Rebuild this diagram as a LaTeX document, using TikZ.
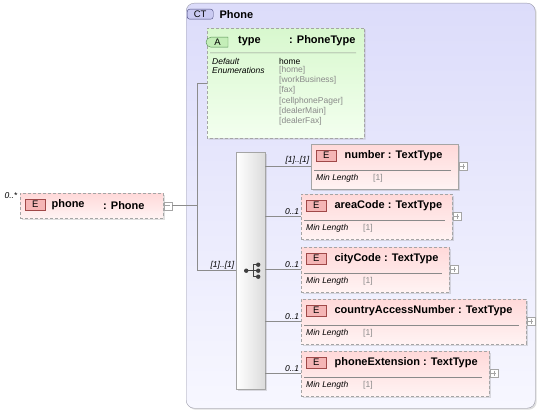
\documentclass[tikz,border=0pt]{standalone}
\usepackage{fontspec}
\setmainfont{Liberation Sans}
\usetikzlibrary{positioning, calc, shapes.misc, shadows}
\definecolor{CtTop}{HTML}{DCDCFA}
\definecolor{CtBot}{HTML}{F7F7FF}
\definecolor{CtLine}{HTML}{9A9AA8}
\definecolor{ElTop}{HTML}{FFD9D9}
\definecolor{ElBot}{HTML}{FFF3F3}
\definecolor{AtTop}{HTML}{D8F8CE}
\definecolor{AtBot}{HTML}{F3FFEF}
\definecolor{BoxLine}{HTML}{A5A5A5}
\definecolor{Wire}{HTML}{8C8C8C}
\definecolor{Faded}{HTML}{8A8A8A}
\definecolor{EFill}{HTML}{F5B5B5}
\definecolor{ELine}{HTML}{A04848}
\definecolor{AFill}{HTML}{C4EEB8}
\definecolor{ALine}{HTML}{4E8A4E}
\definecolor{CFill}{HTML}{CACAF2}
\definecolor{CLine}{HTML}{45457A}
\tikzset{
  shade/.style={drop shadow={shadow xshift=1.5pt, shadow yshift=-1.5pt, opacity=.25}},
  ctbox/.style={draw=CtLine, rounded corners=8pt, top color=CtTop, bottom color=CtBot,
                anchor=north west, inner sep=0pt, shade},
  elbox/.style={draw=BoxLine, top color=ElTop, bottom color=ElBot, anchor=north west,
                inner sep=0pt, shade},
  attbox/.style={draw=BoxLine, opt, top color=AtTop, bottom color=AtBot, anchor=north west,
                 inner sep=0pt, shade, chamfered rectangle,
                 chamfered rectangle corners={north west, south west, south east},
                 chamfered rectangle xsep=6pt, chamfered rectangle ysep=6pt},
  seqbox/.style={draw=BoxLine, left color=white, right color=gray!28, anchor=north west,
                 inner sep=0pt, shade},
  opt/.style={dash pattern=on 3pt off 2pt},
  badge/.style={draw=ELine, fill=EFill, minimum width=20pt, minimum height=11pt, inner sep=0pt,
                font=\fontsize{9.5}{9.5}\selectfont, anchor=north west},
  hdr/.style={font=\fontsize{11}{11}\selectfont\bfseries, inner sep=0pt, anchor=west},
  facet/.style={font=\fontsize{8.5}{8.5}\selectfont\itshape, inner sep=0pt, anchor=west},
  fval/.style={font=\fontsize{8.5}{8.5}\selectfont, text=Faded, inner sep=0pt, anchor=west},
  card/.style={font=\fontsize{8.5}{8.5}\selectfont\itshape, inner sep=1.5pt},
  wire/.style={draw=Wire, line width=.6pt},
  rule/.style={draw=Faded, line width=.5pt},
  pm/.style={draw=BoxLine, fill=white, minimum size=8pt, inner sep=0pt},
  pmsign/.style={draw=BoxLine, line width=.6pt}
}

\begin{document}
\begin{tikzpicture}[x=1pt, y=-1pt]
  \useasboundingbox (0,0) rectangle (543,412);
  % complex type
  \node[ctbox, minimum width=349pt, minimum height=405pt] (ct) at (186,3) {};
  \node[badge, draw=CLine, fill=CFill, rounded corners=2.5pt, minimum width=26pt,
        minimum height=10pt] (ct-b) at (187,9) {CT};
  \node[hdr, right=6pt of ct-b] (ct-name) {Phone};
  % attribute
  \node[attbox, minimum width=157pt, minimum height=110pt] (attr) at (207,28) {};
  \node[badge, draw=ALine, fill=AFill, rounded rectangle, rounded rectangle right arc=none,
        minimum width=22pt, minimum height=10pt] (attr-b) at (211,37) {A};
  \node[hdr] (attr-name) at (238,41) {type};
  \node[hdr] (attr-type) at (289,41) {: PhoneType};
  \draw[rule] ($(attr.north west)+(3,25)$) -- ($(attr.north east)+(-8,25)$);
  \node[facet] (attr-dflt) at (212,61) {Default};
  \node[facet] (attr-enum) at (212,70.5) {Enumerations};
  \node[fval, text=black] (attr-home) at (279,61) {home};
  \foreach \v [count=\i] in {home,workBusiness,fax,cellphonePager,dealerMain,dealerFax}
    \node[fval] (enum-\i) at (279,60.5+10.1*\i) {[\v]};
  % sequence
  \node[seqbox, minimum width=29pt, minimum height=237pt] (seq) at (236,152) {};
  \begin{scope}[shift={(seq.center)}, draw=black!75, fill=black!75, line width=.7pt]
    \draw (-4.5,0) -- (7.5,0) (2.5,-6) -- (2.5,6) (2.5,-6) -- (7.5,-6) (2.5,6) -- (7.5,6);
    \fill (-4.5,0) circle (2.2pt) (7.5,-6) circle (2.2pt) (7.5,0) circle (2.2pt)
          (7.5,6) circle (2.2pt);
  \end{scope}
  % phone element
  \node[elbox, opt, minimum width=143pt, minimum height=25pt] (phone) at (20,193) {};
  \node[badge] (phone-b) at (25,199) {E};
  \node[hdr, right=6pt of phone-b] (phone-name) {phone};
  \node[hdr] (phone-type) at (103,205.5) {: Phone};
  \node[card, anchor=east] (phone-card) at ($(phone.north west)+(-1,3)$) {0..*};
  \node[pm] (phone-pm) at ($(phone.east)+(4.5,0)$) {};
  \draw[pmsign] ($(phone-pm.center)+(-2.5,0)$) -- ($(phone-pm.center)+(2.5,0)$);
  % wires
  \coordinate (fork) at ($(phone-pm.east -| attr.west)+(-10,0)$);
  \draw[wire] (phone-pm.east) -- (fork);
  \draw[wire] (attr.west) -| (fork) |- (seq.west) node[card, pos=1, above left] {[1]..[1]};
  % child elements
  \foreach \nm/\bx/\by/\bw/\req/\mult in {number/311/144/147/1/{[1]..[1]},
      areaCode/301/194/151/0/0..1, cityCode/301/247/148/0/0..1,
      countryAccessNumber/301/299/225/0/0..1, phoneExtension/301/351/188/0/0..1}{
    \ifnum\req=1 \tikzset{bdr/.style={solid}}\else\tikzset{bdr/.style={opt}}\fi
    \node[elbox, bdr, minimum width=\bw pt, minimum height=45pt] (\nm) at (\bx,\by) {};
    \node[badge] (\nm-b) at ($(\nm.north west)+(5,6)$) {E};
    \node[hdr, right=8pt of \nm-b] (\nm-name) {\nm\ : TextType};
    \draw[rule] ($(\nm.north west)+(3,26)$) -- ($(\nm.north east)+(-7,26)$);
    \node[facet] (\nm-fct) at ($(\nm.north west)+(5,34)$) {Min Length};
    \node[fval] (\nm-val) at ($(\nm.north west)+(62,34)$) {[1]};
    \node[pm] (\nm-pm) at ($(\nm.north east)+(4.5,22)$) {};
    \draw[pmsign] ($(\nm-pm.center)+(-2.5,0)$) -- ($(\nm-pm.center)+(2.5,0)$)
                  ($(\nm-pm.center)+(0,-2.5)$) -- ($(\nm-pm.center)+(0,2.5)$);
    \coordinate (\nm-in) at ($(\nm.north west)+(0,22)$);
    \draw[wire] (seq.east |- \nm-in) -- (\nm-in) node[card, pos=1, above left] {\mult};
  }
\end{tikzpicture}
\end{document}
